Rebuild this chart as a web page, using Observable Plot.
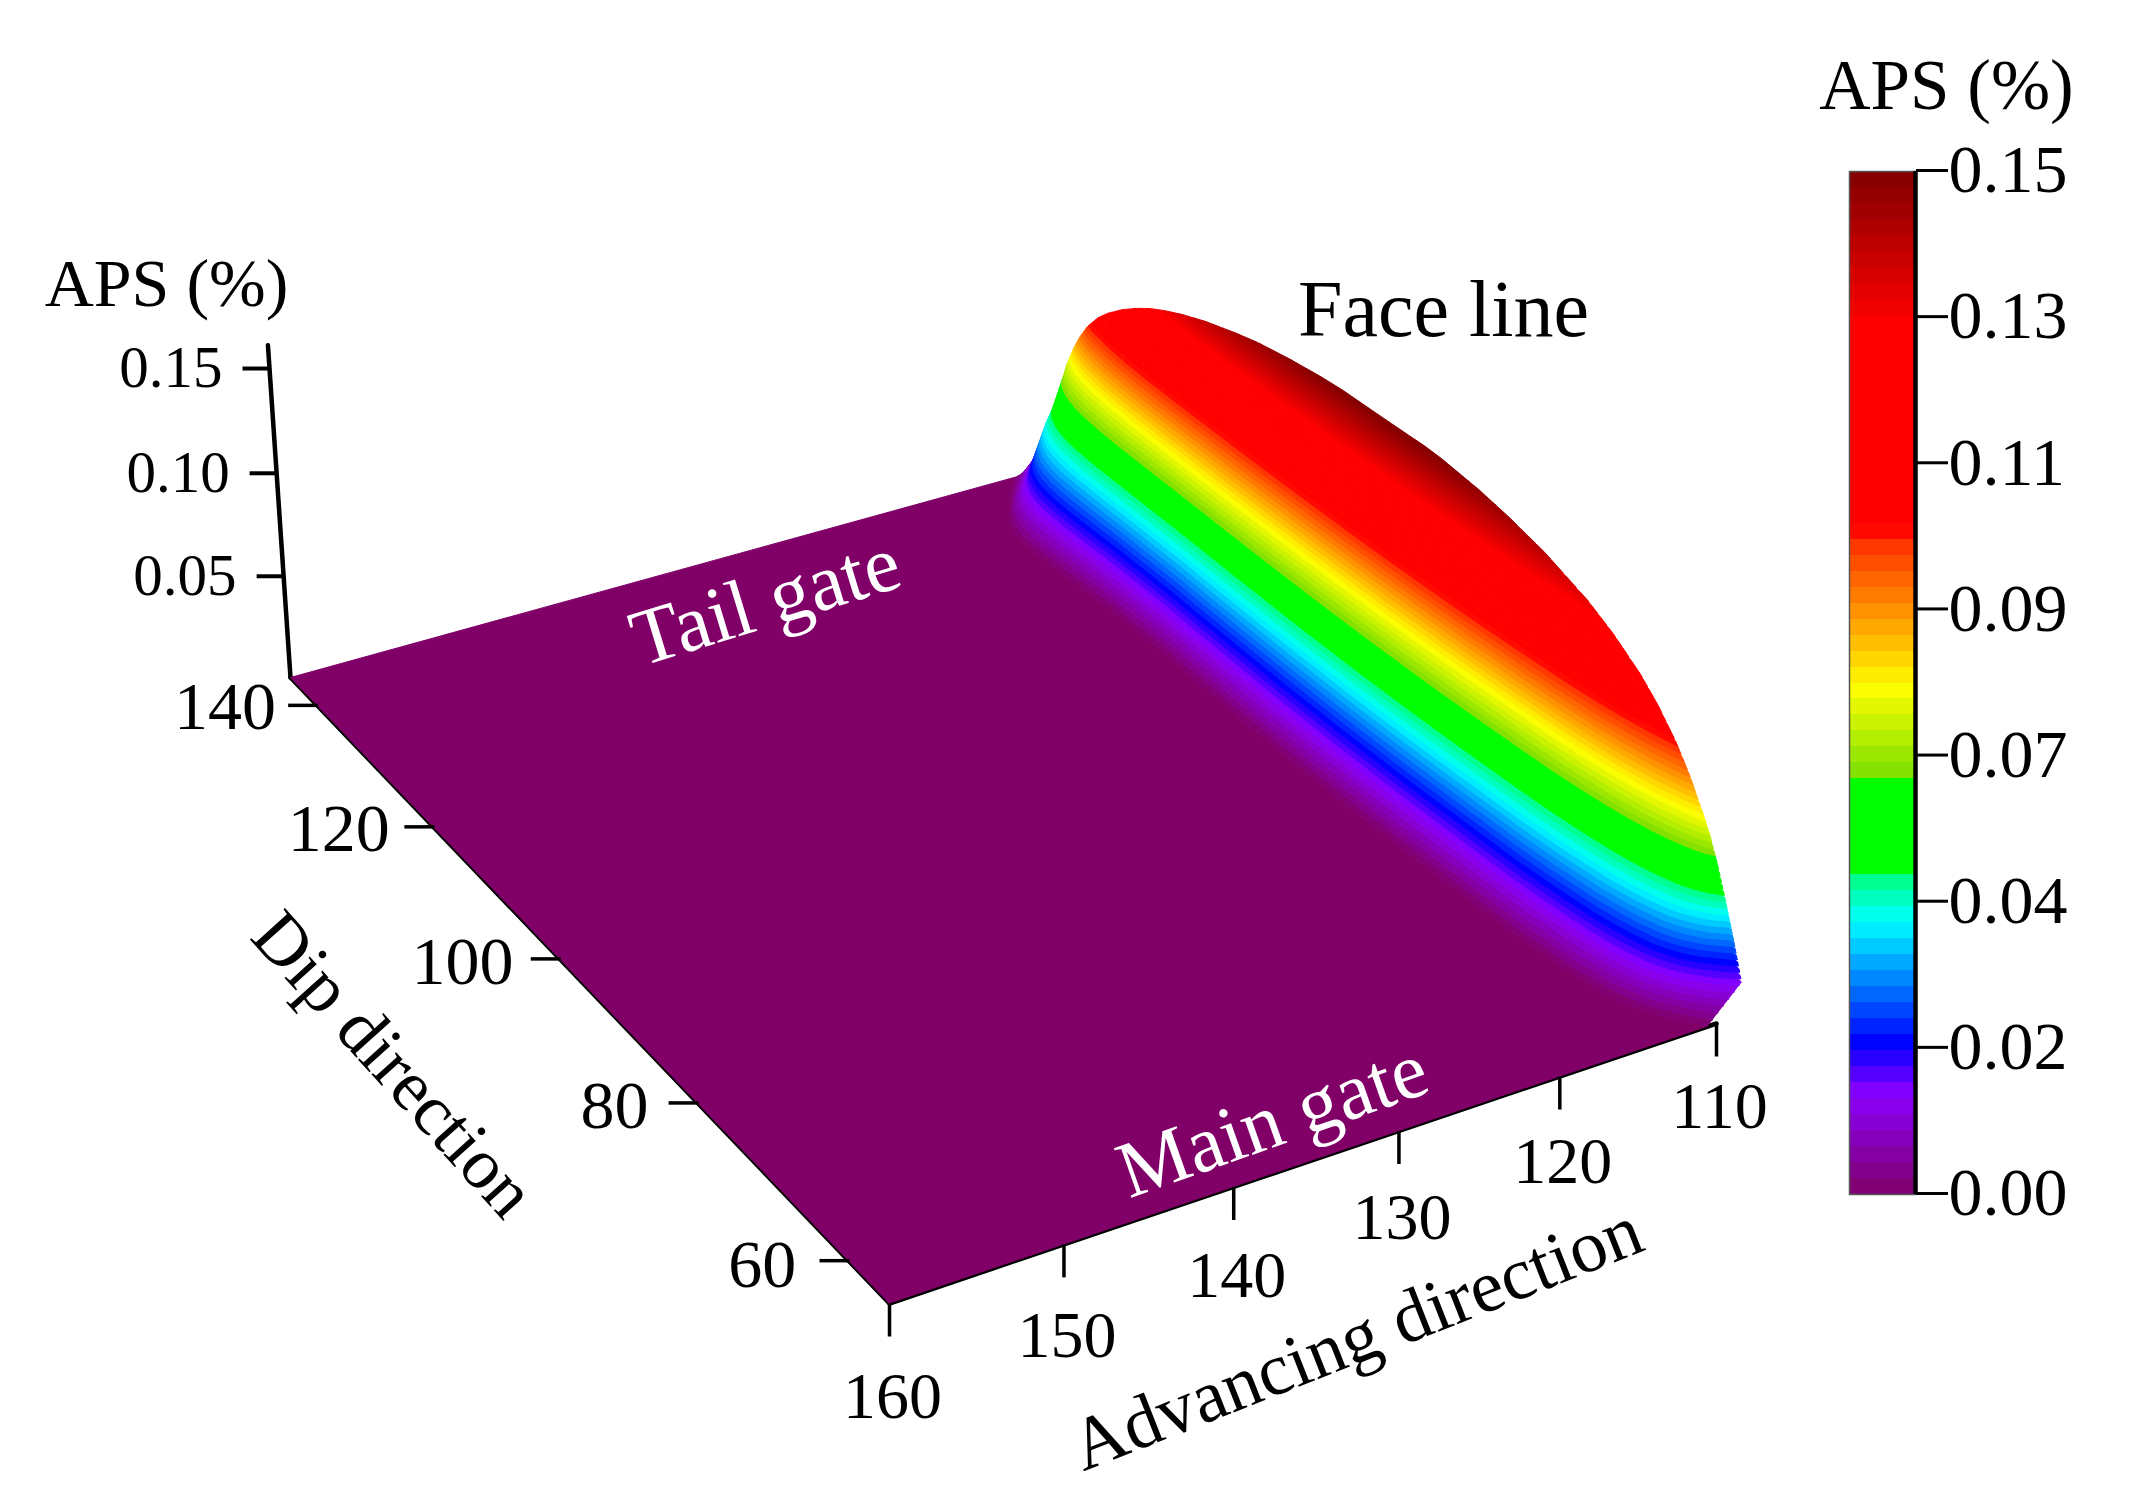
<!DOCTYPE html>
<html><head><meta charset="utf-8">
<script src="https://cdn.jsdelivr.net/npm/d3@7"></script>
<script src="https://cdn.jsdelivr.net/npm/@observablehq/plot@0.6"></script>
<style>html,body{margin:0;padding:0;background:#fff}#chart{position:relative;width:2154px;height:1491px;overflow:hidden}#chart svg{position:absolute;top:0;background:transparent}</style>
</head><body><div id="chart"></div>
<script>
// ---- values ----
const advTicks = [160, 150, 140, 130, 120, 110];
const dipTicks = [140, 120, 100, 80, 60];
const apsTicks3d = [0.05, 0.10, 0.15];
const barTickLabels = ["0.00", "0.02", "0.04", "0.07", "0.09", "0.11", "0.13", "0.15"];
const dipSamples = [55,56,57,58,59,60,61.5,63,65,67,70,73,78,82,85.5,90,94,97,101,105,109,113,116,120,123,125.5,127.5,129.5,131.5,133.5,135,136.5,137.5,138.5,139.5,140.5,141.5,142.5,144,145];
// APS along the face line (top of the surface) at each dip sample
const faceAps = [.015,.030,.044,.057,.068,.0765,.088,.0975,.1075,.1155,.1245,.1315,.1395,.144,.147,.1495,.1505,.1507,.1503,.1493,.1476,.1452,.1425,.1382,.1341,.130,.1262,.1215,.116,.1095,.1035,.0955,.0885,.080,.0695,.0555,.0395,.0265,.011,.002];
// advance position at which APS starts to rise above zero, at each dip sample
const riseStartAdv = [110.6,111.2,111.8,112.3,112.7,113.0,113.3,113.5,113.7,113.8,113.95,114.05,114.1,114.15,114.2,114.2,114.2,114.15,114.1,114.0,113.9,113.8,113.7,113.65,113.65,113.65,113.7,113.75,113.8,113.8,113.75,113.6,113.4,113.1,112.7,112.2,111.7,111.2,110.4,109.6];
const faceAdv = 108.5;
// how far from rise start toward the face (share of the way) each APS level sits, at mid face
const riseAps = [0,.0148,.022,.04,.0468,.0616,.0743,.0973,.1276,.152];
const riseWay = [0,.17,.235,.38,.45,.565,.65,.76,.90,1];
// colour bar
const colorValues = [0,.0148,.0221,.040,.0467,.0469,.0615,.0617,.0743,.0965,.0975,.1276,.15];
const colorHex = ["#800068","#8a00ff","#0000ff","#00ffff","#00ff80","#00ff00","#00ff00","#80e000","#ffff00","#ff2800","#ff0000","#ff0000","#800000"];
const nLevels = 64, apsMax = 0.15;

// ---- perspective view of the box ----
const advRange = [160, 110], dipRange = [55, 145];
const P0=[889,1303], P1=[1716,1023], P2=[1010,478], P3=[290,677], VP=[1100,12600];
const dx1=P1[0]-P2[0], dx2=P3[0]-P2[0], sx=P0[0]-P1[0]+P2[0]-P3[0];
const dy1=P1[1]-P2[1], dy2=P3[1]-P2[1], sy=P0[1]-P1[1]+P2[1]-P3[1];
const den=dx1*dy2-dx2*dy1, G=(sx*dy2-dx2*sy)/den, H=(dx1*sy-sx*dy1)/den;
const A=P1[0]-P0[0]+G*P1[0], B=P3[0]-P0[0]+H*P3[0], D=P1[1]-P0[1]+G*P1[1], E=P3[1]-P0[1]+H*P3[1];
const Zw=-0.1684*(1+H);
function view(adv,dip,aps){
  const u=(advRange[0]-adv)/(advRange[0]-advRange[1]), v=(dip-dipRange[0])/(dipRange[1]-dipRange[0]);
  const w=G*u+H*v+1+aps*Zw;
  return {x:(A*u+B*v+P0[0]+aps*Zw*VP[0])/w, y:(D*u+E*v+P0[1]+aps*Zw*VP[1])/w};
}
const color=d3.scaleLinear().domain(colorValues).range(colorHex).interpolate(d3.interpolateRgb);
const way=d3.scaleLinear().domain(riseAps).range(riseWay).clamp(true);

// dense sampling of the read profiles for drawing
const lerp=(a,b,t)=>a+(b-a)*t;
const rows=[];
dipSamples.forEach((d,i)=>{
  if(i===dipSamples.length-1){rows.push({dip:d,face:faceAps[i],start:riseStartAdv[i]});return;}
  for(let k=0;k<6;k++){const t=k/6;rows.push({dip:lerp(d,dipSamples[i+1],t),face:lerp(faceAps[i],faceAps[i+1],t),start:lerp(riseStartAdv[i],riseStartAdv[i+1],t)});}
});
const advAt=(r,z)=>lerp(r.start,faceAdv,Math.min(1,way(z)/way(r.face)));

const surface=[];
// flat floor
const floor=[{dip:55,adv:160},{dip:145,adv:160},...rows.slice().reverse().map(r=>({dip:r.dip,adv:r.start}))];
floor.forEach(p=>surface.push({band:-1,fill:colorHex[0],...view(p.adv,p.dip,0)}));
// colour bands
for(let i=0;i<nLevels;i++){
  const lo=i*apsMax/nLevels, hi=(i+1)*apsMax/nLevels, fill=color((lo+hi)/2);
  const keep=[];
  rows.forEach((r,k)=>{
    if(r.face>lo){
      if(k>0&&rows[k-1].face<=lo){const p=rows[k-1],t=(lo-p.face)/(r.face-p.face);keep.push({dip:lerp(p.dip,r.dip,t),face:lo,start:lerp(p.start,r.start,t)});}
      keep.push(r);
      if(k<rows.length-1&&rows[k+1].face<=lo){const n=rows[k+1],t=(r.face-lo)/(r.face-n.face);keep.push({dip:lerp(r.dip,n.dip,t),face:lo,start:lerp(r.start,n.start,t)});}
    }
  });
  if(!keep.length) continue;
  keep.forEach(r=>surface.push({band:i,fill,...view(advAt(r,lo),r.dip,lo)}));
  keep.slice().reverse().forEach(r=>{const z=Math.min(hi,r.face);surface.push({band:i,fill,...view(advAt(r,z),r.dip,z)});});
}

// axes
const corner0=view(160,145,0), cornerTop=view(160,145,0.161), front=view(160,55,0), right=view(110,55,0);
const axisLines=[{x1:cornerTop.x,y1:cornerTop.y,x2:corner0.x,y2:corner0.y},{x1:corner0.x,y1:corner0.y,x2:front.x,y2:front.y},{x1:front.x,y1:front.y,x2:right.x,y2:right.y}];
const advPts=advTicks.map(a=>({label:a,...view(a,55,0)}));
const dipPts=dipTicks.map(d=>({label:d,...view(160,d,0)}));
const apsPts=apsTicks3d.map(z=>({label:z.toFixed(2),...view(160,145,z)}));
const serif="Liberation Serif";

const main=Plot.plot({
  width:2154,height:1491,margin:0,
  x:{domain:[0,2154],range:[0,2154],axis:null},
  y:{domain:[0,1491],range:[0,1491],axis:null},
  marks:[
    Plot.link(axisLines,{x1:"x1",y1:"y1",x2:"x2",y2:"y2",stroke:"#000",strokeWidth:4.5,strokeLinecap:"round"}),
    Plot.line(surface,{x:"x",y:"y",z:"band",fill:"fill",stroke:"fill",strokeWidth:1}),
    Plot.link(advPts,{x1:"x",y1:"y",x2:"x",y2:d=>d.y+33,stroke:"#000",strokeWidth:3.5}),
    Plot.link(dipPts,{x1:"x",y1:d=>d.y-1,x2:d=>d.x-30,y2:d=>d.y-1,stroke:"#000",strokeWidth:3.5}),
    Plot.link(apsPts,{x1:"x",y1:"y",x2:d=>d.x-27,y2:"y",stroke:"#000",strokeWidth:4}),
    Plot.text(advPts,{x:d=>d.x+3,y:d=>d.y+83+(d.y-1023)*.036,text:"label",fontSize:66,fontFamily:serif,fill:"#000"}),
    Plot.text(dipPts,{x:d=>d.x-(42+(d.y-700)*.02),y:d=>d.y+1+(d.y-700)*.004,text:"label",textAnchor:"end",fontSize:68,fontFamily:serif,fill:"#000"}),
    Plot.text(apsPts,{x:d=>d.x-47,y:"y",text:"label",textAnchor:"end",fontSize:59,fontFamily:serif,fill:"#000"}),
    Plot.text(["APS (%)"],{x:[166],y:[284],text:d=>d,fontSize:68,fontFamily:serif,fill:"#000"}),
    Plot.text(["APS (%)"],{x:[1946],y:[86],text:d=>d,fontSize:71,fontFamily:serif,fill:"#000"}),
    Plot.text(["Face line"],{x:[1443],y:[310],text:d=>d,fontSize:80,fontFamily:serif,fill:"#000"}),
    Plot.text(["Tail gate"],{x:[765],y:[601],text:d=>d,rotate:-17,fontSize:80,fontFamily:serif,fill:"#fff"}),
    Plot.text(["Main gate"],{x:[1272],y:[1120],text:d=>d,rotate:-19.5,fontSize:80,fontFamily:serif,fill:"#fff"}),
    Plot.text(["Dip direction"],{x:[393],y:[1064],text:d=>d,rotate:48,fontSize:72,fontFamily:serif,fill:"#000"}),
    Plot.text(["Advancing direction"],{x:[1356],y:[1338],text:d=>d,rotate:-21.5,fontSize:74,fontFamily:serif,fill:"#000"})
  ]
});
main.style.left="0px";
document.getElementById("chart").append(main);

// colour bar
const barBands=d3.range(nLevels).map(i=>({lo:i*apsMax/nLevels,hi:(i+1)*apsMax/nLevels,fill:color((i+.5)*apsMax/nLevels)}));
const barTicks=barTickLabels.map((l,i)=>({v:i*apsMax/7,l}));
const bar=Plot.plot({
  width:374,height:1491,marginLeft:69,marginRight:239,marginTop:171,marginBottom:297,
  x:{domain:[0,1],axis:null},
  y:{domain:[0,apsMax],axis:null},
  color:{type:"identity"},
  marks:[
    Plot.rect(barBands,{x1:()=>0,x2:()=>1,y1:"lo",y2:"hi",fill:"fill",shapeRendering:"crispEdges"}),
    Plot.frame({stroke:"#555",strokeWidth:1.5}),
    Plot.ruleX([1],{stroke:"#000",strokeWidth:4.5}),
    Plot.axisY(barTicks.map(d=>d.v),{anchor:"right",tickSize:32,tickPadding:1,strokeWidth:3,fontSize:68,fontFamily:serif,fill:"#000",dy:-1,tickFormat:v=>barTicks.find(d=>d.v===v).l})
  ]
});
bar.style.left="1780px";
document.getElementById("chart").append(bar);
</script></body></html>
